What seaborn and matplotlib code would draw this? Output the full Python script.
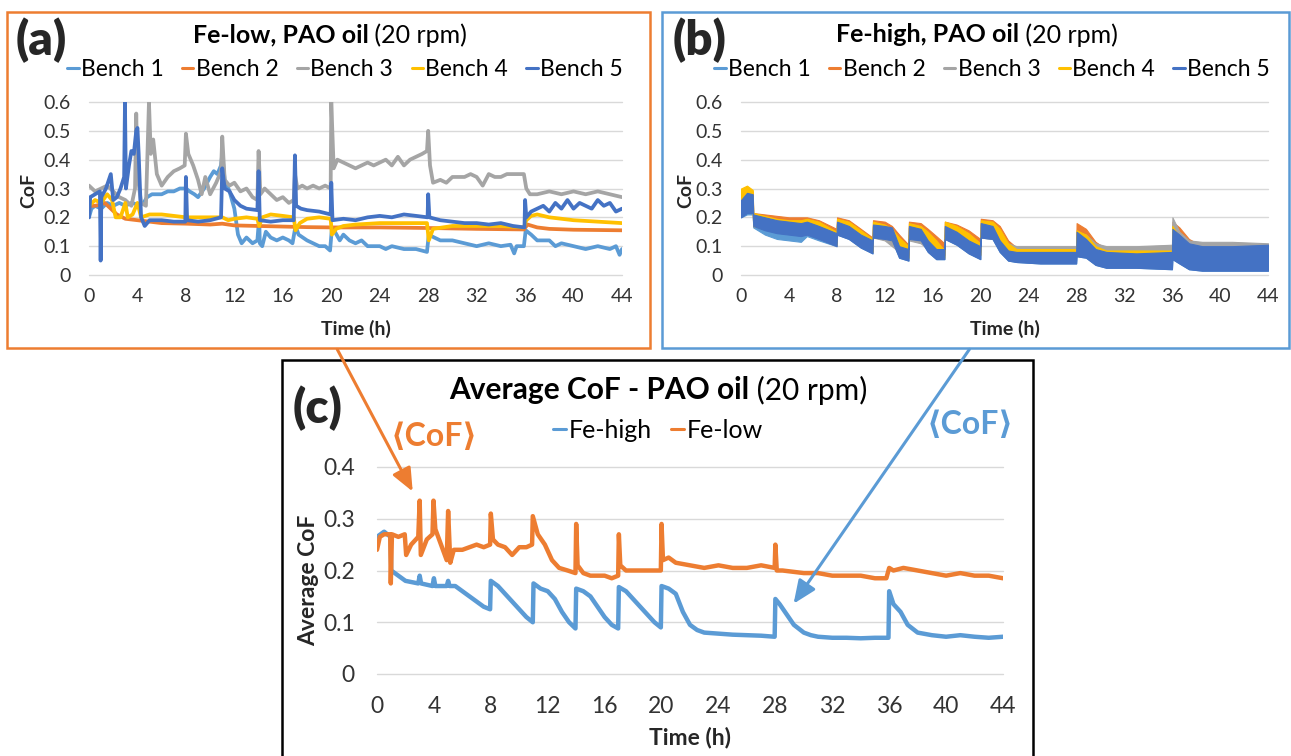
import numpy as np
import pandas as pd
import matplotlib
matplotlib.use("Agg")
import matplotlib.pyplot as plt
from matplotlib.lines import Line2D
from matplotlib.patches import Rectangle, FancyArrowPatch
import seaborn as sns

sns.set_style("white")
plt.rcParams['font.family'] = ['Lato', 'DejaVu Sans']

W, H = 1291, 756

# ---------------- DATA ----------------
BENCHES = ["Bench 1", "Bench 2", "Bench 3", "Bench 4", "Bench 5"]
COLORS = ["#5B9BD5", "#ED7D31", "#A5A5A5", "#FFC000", "#4472C4"]
X_TICKS = [0, 4, 8, 12, 16, 20, 24, 28, 32, 36, 40, 44]
Y_TICKS_AB = [0, 0.1, 0.2, 0.3, 0.4, 0.5, 0.6]
Y_LABELS_AB = ["0", "0.1", "0.2", "0.3", "0.4", "0.5", "0.6"]
Y_TICKS_C = [0, 0.1, 0.2, 0.3, 0.4]
Y_LABELS_C = ["0", "0.1", "0.2", "0.3", "0.4"]

# Panel (a): Fe-low benches
a_b1_t = [0, 0.2, 0.5, 1, 1.5, 2, 2.5, 3, 3.5, 4, 4.5, 4.8, 5.2, 6, 6.5, 7, 7.5, 8, 8.3, 8.7, 9, 9.5, 10, 10.3, 10.6,
          10.9, 11, 11.2, 11.6, 12, 12.3, 12.6, 13, 13.5, 13.9, 14.05, 14.1, 14.3, 14.6, 15, 15.5, 16, 16.5, 16.8,
          17.05, 17.3, 18, 18.5, 19, 19.5, 19.9, 20.05, 20.3, 20.7, 21, 21.5, 22, 22.5, 23, 24, 24.5, 25, 26, 27,
          27.9, 28.05, 28.5, 29, 30, 31, 32, 33, 34, 34.8, 35.1, 35.3, 35.9, 36.05, 36.5, 37, 38, 38.5, 39, 40, 41,
          42, 43, 43.5, 43.8, 44]
a_b1_v = [0.20, 0.23, 0.24, 0.23, 0.25, 0.24, 0.25, 0.24, 0.25, 0.245, 0.25, 0.27, 0.28, 0.28, 0.29, 0.29, 0.30, 0.30,
          0.29, 0.28, 0.27, 0.30, 0.34, 0.36, 0.35, 0.38, 0.42, 0.33, 0.29, 0.23, 0.14, 0.11, 0.13, 0.11, 0.12, 0.20,
          0.11, 0.10, 0.15, 0.13, 0.12, 0.13, 0.12, 0.11, 0.17, 0.14, 0.12, 0.11, 0.10, 0.10, 0.085, 0.16, 0.15,
          0.12, 0.14, 0.12, 0.11, 0.12, 0.10, 0.10, 0.09, 0.10, 0.09, 0.09, 0.08, 0.14, 0.13, 0.12, 0.12, 0.11,
          0.10, 0.11, 0.10, 0.105, 0.075, 0.10, 0.10, 0.155, 0.14, 0.12, 0.12, 0.10, 0.11, 0.10, 0.09, 0.10, 0.09,
          0.10, 0.07, 0.09]

a_b2_t = [0, 0.5, 1, 1.3, 1.8, 2.3, 3, 4, 5, 6, 8, 10, 11, 12, 14, 16, 18, 20, 24, 28, 32, 35.9, 36.2, 37, 38, 40, 44]
a_b2_v = [0.24, 0.24, 0.245, 0.25, 0.23, 0.21, 0.195, 0.19, 0.185, 0.18, 0.178, 0.175, 0.178, 0.172, 0.17, 0.168,
          0.166, 0.165, 0.165, 0.163, 0.16, 0.158, 0.175, 0.165, 0.16, 0.157, 0.155]

a_b3_t = [0, 0.5, 1, 1.5, 2, 2.5, 3, 3.5, 3.8, 3.9, 4.0, 4.3, 4.7, 4.95, 5.1, 5.3, 5.6, 6, 6.5, 7, 7.5, 7.9, 8.0, 8.2,
          8.6, 9, 9.3, 9.6, 10, 10.5, 10.9, 11.0, 11.2, 11.6, 12, 12.5, 13, 13.5, 13.9, 14.0, 14.15, 14.5, 15, 15.5,
          16, 16.5, 16.9, 17.0, 17.2, 17.6, 18, 18.5, 19, 19.5, 19.95, 20.0, 20.2, 20.5, 21, 21.5, 22, 22.5, 23,
          23.5, 24, 24.5, 25, 25.5, 26, 26.5, 27, 27.5, 27.9, 28.0, 28.15, 28.4, 29, 29.5, 30, 31, 31.5, 32, 32.5,
          33, 33.5, 34, 34.5, 35, 35.9, 36.1, 36.4, 37, 38, 39, 40, 41, 42, 43, 44]
a_b3_v = [0.31, 0.29, 0.30, 0.31, 0.29, 0.27, 0.26, 0.24, 0.30, 0.56, 0.35, 0.25, 0.24, 0.60, 0.42, 0.47, 0.35, 0.31,
          0.34, 0.36, 0.37, 0.38, 0.49, 0.42, 0.38, 0.33, 0.28, 0.34, 0.28, 0.32, 0.36, 0.48, 0.33, 0.31, 0.32,
          0.29, 0.30, 0.27, 0.26, 0.43, 0.28, 0.30, 0.28, 0.26, 0.27, 0.25, 0.26, 0.35, 0.30, 0.31, 0.30, 0.31,
          0.30, 0.31, 0.30, 0.60, 0.37, 0.40, 0.39, 0.38, 0.37, 0.38, 0.39, 0.38, 0.39, 0.40, 0.38, 0.41, 0.38,
          0.40, 0.41, 0.42, 0.43, 0.50, 0.38, 0.32, 0.33, 0.32, 0.34, 0.34, 0.35, 0.34, 0.31, 0.35, 0.34, 0.34,
          0.35, 0.35, 0.35, 0.30, 0.28, 0.28, 0.29, 0.28, 0.29, 0.28, 0.29, 0.28, 0.27]

a_b4_t = [0, 0.5, 1, 1.5, 1.9, 2.2, 2.6, 3.0, 3.2, 3.6, 4.0, 4.3, 5, 6, 7, 8, 9, 10, 11, 11.5, 12, 13, 13.9, 14.05,
          14.3, 15, 16, 16.9, 17.05, 17.4, 18, 19, 19.95, 20.05, 20.4, 21, 22, 24, 26, 27.9, 28.05, 28.4, 30, 32,
          34, 35.9, 36.1, 36.5, 37, 38, 40, 42, 44]
a_b4_v = [0.24, 0.26, 0.25, 0.28, 0.26, 0.20, 0.20, 0.25, 0.20, 0.21, 0.25, 0.20, 0.21, 0.21, 0.205, 0.20, 0.20,
          0.20, 0.20, 0.19, 0.195, 0.20, 0.195, 0.17, 0.20, 0.21, 0.205, 0.20, 0.155, 0.18, 0.195, 0.20, 0.195,
          0.14, 0.16, 0.17, 0.175, 0.18, 0.18, 0.18, 0.12, 0.16, 0.17, 0.17, 0.17, 0.165, 0.19, 0.205, 0.21, 0.20,
          0.19, 0.185, 0.18]

a_b5_t = [0, 0.1, 0.5, 0.9, 0.96, 1.02, 1.4, 1.8, 2.0, 2.3, 2.6, 2.9, 2.97, 3.05, 3.3, 3.5, 3.7, 3.9, 4.0, 4.1, 4.3,
          4.6, 5, 6, 7, 7.95, 8.0, 8.1, 9, 10, 10.9, 11.0, 11.2, 11.6, 12, 12.5, 13, 13.9, 14.0, 14.1, 15, 16, 16.9,
          17.0, 17.1, 17.5, 18, 19, 19.95, 20.0, 20.1, 21, 22, 23, 24, 25, 26, 27, 27.95, 28.0, 28.1, 29, 30, 31,
          32, 33, 34, 35, 35.95, 36.0, 36.1, 36.5, 37, 37.5, 38, 38.5, 39, 39.5, 40, 40.5, 41, 41.5, 42, 42.5, 43,
          43.5, 44]
a_b5_v = [0.20, 0.27, 0.28, 0.29, 0.05, 0.27, 0.30, 0.35, 0.26, 0.27, 0.30, 0.34, 0.60, 0.30, 0.38, 0.43, 0.42, 0.50,
          0.51, 0.42, 0.20, 0.17, 0.19, 0.19, 0.185, 0.185, 0.34, 0.19, 0.185, 0.19, 0.20, 0.37, 0.30, 0.29, 0.26,
          0.24, 0.23, 0.225, 0.36, 0.19, 0.185, 0.19, 0.19, 0.415, 0.24, 0.23, 0.225, 0.22, 0.21, 0.32, 0.19,
          0.195, 0.19, 0.20, 0.205, 0.20, 0.21, 0.205, 0.20, 0.28, 0.20, 0.19, 0.185, 0.18, 0.18, 0.175, 0.18,
          0.17, 0.165, 0.26, 0.20, 0.22, 0.23, 0.24, 0.22, 0.25, 0.23, 0.26, 0.23, 0.25, 0.24, 0.23, 0.26, 0.24,
          0.25, 0.22, 0.23]

# Panel (b): Fe-high benches, upper / lower envelope of the dense signal
b_t = [0, 0.5, 0.98, 1.02, 2, 3, 4, 5, 5.5, 6.5, 7.98, 8.02, 9, 10, 10.98, 11.02, 12, 12.6, 13.2, 13.98, 14.02, 15,
       15.6, 16.3, 16.98, 17.02, 18, 19, 19.98, 20.02, 21, 21.6, 22.3, 23, 25, 27.98, 28.02, 28.8, 29.6, 30.5, 33,
       35.98, 36.02, 36.6, 37.4, 38.5, 41, 44]
b_b1_hi = [0.25, 0.27, 0.27, 0.20, 0.19, 0.18, 0.175, 0.17, 0.175, 0.165, 0.14, 0.18, 0.165, 0.135, 0.115, 0.17,
           0.165, 0.16, 0.10, 0.09, 0.165, 0.155, 0.12, 0.09, 0.09, 0.165, 0.145, 0.115, 0.095, 0.175, 0.165, 0.115,
           0.085, 0.08, 0.08, 0.08, 0.145, 0.12, 0.09, 0.08, 0.075, 0.08, 0.155, 0.135, 0.105, 0.10, 0.10, 0.10]
b_b1_lo = [0.20, 0.21, 0.21, 0.165, 0.14, 0.125, 0.12, 0.115, 0.135, 0.12, 0.10, 0.14, 0.125, 0.095, 0.075, 0.13,
           0.125, 0.12, 0.06, 0.05, 0.125, 0.12, 0.08, 0.055, 0.055, 0.125, 0.105, 0.075, 0.055, 0.13, 0.125, 0.08,
           0.05, 0.045, 0.04, 0.04, 0.065, 0.06, 0.035, 0.025, 0.025, 0.02, 0.055, 0.04, 0.02, 0.015, 0.015, 0.015]
b_b2_hi = [0.29, 0.30, 0.29, 0.215, 0.21, 0.205, 0.20, 0.20, 0.20, 0.19, 0.16, 0.20, 0.19, 0.16, 0.13, 0.19, 0.185,
           0.17, 0.14, 0.105, 0.185, 0.18, 0.16, 0.135, 0.11, 0.185, 0.175, 0.155, 0.125, 0.195, 0.19, 0.17, 0.12,
           0.095, 0.09, 0.09, 0.18, 0.16, 0.115, 0.09, 0.09, 0.09, 0.185, 0.165, 0.125, 0.10, 0.10, 0.10]
b_b2_lo = [0.22, 0.23, 0.22, 0.17, 0.165, 0.16, 0.155, 0.15, 0.15, 0.14, 0.11, 0.15, 0.14, 0.11, 0.09, 0.14, 0.14,
           0.12, 0.10, 0.07, 0.14, 0.13, 0.12, 0.09, 0.07, 0.14, 0.13, 0.11, 0.08, 0.14, 0.14, 0.12, 0.09, 0.08,
           0.08, 0.08, 0.12, 0.10, 0.085, 0.08, 0.08, 0.08, 0.11, 0.10, 0.09, 0.09, 0.09, 0.09]
b_b3_hi = [0.27, 0.28, 0.275, 0.205, 0.20, 0.19, 0.185, 0.185, 0.19, 0.175, 0.145, 0.19, 0.175, 0.145, 0.12, 0.17,
           0.16, 0.135, 0.11, 0.095, 0.165, 0.155, 0.13, 0.105, 0.09, 0.17, 0.155, 0.13, 0.105, 0.18, 0.17, 0.14,
           0.11, 0.10, 0.10, 0.10, 0.15, 0.14, 0.11, 0.10, 0.10, 0.105, 0.20, 0.15, 0.12, 0.115, 0.115, 0.11]
b_b3_lo = [0.21, 0.22, 0.22, 0.17, 0.16, 0.15, 0.145, 0.14, 0.145, 0.13, 0.10, 0.14, 0.13, 0.10, 0.08, 0.13, 0.12,
           0.10, 0.08, 0.06, 0.12, 0.11, 0.09, 0.075, 0.07, 0.125, 0.11, 0.09, 0.07, 0.13, 0.125, 0.10, 0.085,
           0.085, 0.085, 0.085, 0.10, 0.095, 0.085, 0.08, 0.08, 0.08, 0.10, 0.10, 0.095, 0.095, 0.095, 0.095]
b_b4_hi = [0.30, 0.31, 0.295, 0.215, 0.205, 0.195, 0.19, 0.19, 0.195, 0.185, 0.15, 0.195, 0.185, 0.155, 0.125,
           0.185, 0.175, 0.16, 0.13, 0.10, 0.18, 0.17, 0.15, 0.12, 0.085, 0.185, 0.17, 0.145, 0.11, 0.19, 0.185,
           0.16, 0.11, 0.09, 0.09, 0.09, 0.155, 0.14, 0.10, 0.085, 0.085, 0.085, 0.17, 0.13, 0.10, 0.095, 0.095,
           0.095]
b_b4_lo = [0.22, 0.23, 0.22, 0.17, 0.16, 0.15, 0.145, 0.14, 0.145, 0.135, 0.105, 0.15, 0.14, 0.11, 0.08, 0.14, 0.13,
           0.12, 0.09, 0.06, 0.14, 0.13, 0.11, 0.08, 0.06, 0.14, 0.125, 0.10, 0.07, 0.14, 0.14, 0.11, 0.08, 0.075,
           0.075, 0.075, 0.10, 0.09, 0.075, 0.07, 0.07, 0.07, 0.09, 0.08, 0.07, 0.07, 0.07, 0.07]
b_b5_hi = [0.26, 0.285, 0.28, 0.21, 0.20, 0.19, 0.185, 0.18, 0.185, 0.17, 0.145, 0.185, 0.17, 0.14, 0.12, 0.175,
           0.17, 0.165, 0.10, 0.09, 0.17, 0.16, 0.12, 0.09, 0.09, 0.17, 0.15, 0.12, 0.10, 0.18, 0.17, 0.12, 0.085,
           0.08, 0.08, 0.08, 0.15, 0.125, 0.09, 0.08, 0.075, 0.08, 0.16, 0.14, 0.11, 0.10, 0.10, 0.105]
b_b5_lo = [0.20, 0.215, 0.215, 0.17, 0.155, 0.145, 0.14, 0.135, 0.14, 0.125, 0.10, 0.14, 0.125, 0.095, 0.075, 0.13,
           0.125, 0.12, 0.06, 0.05, 0.125, 0.12, 0.08, 0.055, 0.055, 0.125, 0.105, 0.075, 0.055, 0.13, 0.125, 0.08,
           0.05, 0.045, 0.04, 0.04, 0.065, 0.06, 0.035, 0.025, 0.025, 0.02, 0.055, 0.04, 0.02, 0.015, 0.015, 0.015]

# Panel (c): averages
c_low_t = [0, 0.2, 0.5, 0.93, 0.97, 1.05, 1.5, 1.95, 2.05, 2.4, 2.9, 3.0, 3.08, 3.5, 3.9, 3.97, 4.1, 4.5, 4.9, 5.0,
           5.15, 5.4, 6, 6.5, 7, 7.5, 7.95, 8.0, 8.15, 8.5, 9, 9.5, 10, 10.5, 10.9, 10.95, 11.3, 11.8, 12.3, 12.8,
           13.4, 13.95, 14.0, 14.1, 14.5, 15, 16, 16.5, 16.95, 17.0, 17.1, 17.5, 18, 19, 19.95, 20.0, 20.1, 20.5, 21,
           22, 23, 24, 25, 26, 27, 27.95, 28.0, 28.1, 28.5, 30, 31, 32, 33, 34, 35, 35.8, 36.0, 36.3, 37, 38, 39, 40,
           41, 42, 43, 44]
c_low_v = [0.24, 0.265, 0.27, 0.27, 0.175, 0.27, 0.265, 0.27, 0.23, 0.25, 0.265, 0.335, 0.23, 0.26, 0.27, 0.335,
           0.28, 0.25, 0.22, 0.315, 0.215, 0.24, 0.24, 0.245, 0.25, 0.245, 0.25, 0.31, 0.26, 0.25, 0.245, 0.23,
           0.245, 0.245, 0.25, 0.305, 0.27, 0.25, 0.22, 0.205, 0.20, 0.195, 0.29, 0.21, 0.195, 0.19, 0.19, 0.185,
           0.19, 0.27, 0.21, 0.20, 0.20, 0.20, 0.20, 0.29, 0.22, 0.225, 0.215, 0.21, 0.205, 0.21, 0.205, 0.205,
           0.21, 0.205, 0.25, 0.20, 0.20, 0.195, 0.195, 0.19, 0.19, 0.19, 0.185, 0.185, 0.205, 0.20, 0.205, 0.20,
           0.195, 0.19, 0.195, 0.19, 0.19, 0.185]
c_high_t = [0, 0.5, 0.95, 1.0, 1.5, 2, 2.9, 3.0, 3.1, 3.9, 4.0, 4.1, 4.9, 5.0, 5.1, 5.5, 6, 6.5, 7, 7.5, 7.95, 8.0,
            8.5, 9, 9.5, 10, 10.5, 10.95, 11.0, 11.5, 12, 12.5, 13, 13.5, 13.95, 14.0, 14.5, 15, 15.5, 16, 16.5,
            16.95, 17.0, 17.5, 18, 18.5, 19, 19.5, 19.95, 20.0, 20.5, 21, 21.5, 22, 22.5, 23, 24, 25, 26, 27, 27.95,
            28.0, 28.3, 28.8, 29.3, 30, 30.5, 31, 32, 33, 34, 35, 35.95, 36.0, 36.3, 36.8, 37.3, 38, 39, 40, 41, 42,
            43, 44]
c_high_v = [0.265, 0.275, 0.265, 0.20, 0.19, 0.18, 0.175, 0.19, 0.175, 0.17, 0.185, 0.17, 0.17, 0.18, 0.17, 0.17,
            0.16, 0.15, 0.14, 0.13, 0.125, 0.18, 0.17, 0.155, 0.14, 0.125, 0.11, 0.10, 0.175, 0.165, 0.16, 0.145,
            0.12, 0.10, 0.088, 0.165, 0.16, 0.15, 0.13, 0.11, 0.095, 0.088, 0.168, 0.16, 0.145, 0.13, 0.115, 0.10,
            0.09, 0.17, 0.165, 0.155, 0.12, 0.095, 0.085, 0.08, 0.078, 0.076, 0.075, 0.074, 0.072, 0.145, 0.135,
            0.115, 0.095, 0.08, 0.075, 0.072, 0.07, 0.07, 0.069, 0.07, 0.07, 0.16, 0.135, 0.12, 0.095, 0.08, 0.075,
            0.072, 0.075, 0.072, 0.07, 0.072]

# ---------------- FIGURE ----------------
fig = plt.figure(figsize=(W / 100, H / 100), dpi=100)


def px_rect(x0, y0, x1, y1):
    return [x0 / W, 1 - y1 / H, (x1 - x0) / W, (y1 - y0) / H]


def fx(x):
    return x / W


def fy(y):
    return 1 - y / H


GRID = "#D9D9D9"
TXT = "#333333"


def style_axes(ax, yticks, ylabels, ylim, tick_fs, ypad, xpad):
    ax.set_xlim(0, 44)
    ax.set_ylim(*ylim)
    ax.set_xticks(X_TICKS)
    ax.set_xticklabels([str(x) for x in X_TICKS], fontsize=tick_fs, color=TXT)
    ax.set_yticks(yticks)
    ax.set_yticklabels(ylabels, fontsize=tick_fs, color=TXT)
    ax.tick_params(axis="y", length=0, pad=ypad)
    ax.tick_params(axis="x", length=0, pad=xpad)
    for s in ax.spines.values():
        s.set_visible(False)
    for yv in yticks:
        ax.axhline(yv, color=GRID, lw=1.0, zorder=0, clip_on=False)
    ax.set_xlabel("")
    ax.set_ylabel("")
    ax.patch.set_alpha(0)


# Panel (a)
ax_a = fig.add_axes(px_rect(89, 102, 622, 275))
a_series = [(a_b1_t, a_b1_v), (a_b2_t, a_b2_v), (a_b3_t, a_b3_v), (a_b4_t, a_b4_v), (a_b5_t, a_b5_v)]
for (tt, vv), name, col in zip(a_series, BENCHES, COLORS):
    df = pd.DataFrame({"t": tt, "v": vv})
    sns.lineplot(data=df, x="t", y="v", ax=ax_a, color=col, lw=2.7, estimator=None, sort=False, legend=False)
style_axes(ax_a, Y_TICKS_AB, Y_LABELS_AB, (0, 0.6), 14, 13.5, 9)

# Panel (b)
ax_b = fig.add_axes(px_rect(741, 102, 1268, 275))
b_series = [(b_b1_lo, b_b1_hi), (b_b2_lo, b_b2_hi), (b_b3_lo, b_b3_hi), (b_b4_lo, b_b4_hi), (b_b5_lo, b_b5_hi)]
for (lo, hi), name, col in zip(b_series, BENCHES, COLORS):
    ax_b.fill_between(b_t, lo, hi, color=col, lw=0.8, edgecolor=col)
style_axes(ax_b, Y_TICKS_AB, Y_LABELS_AB, (0, 0.6), 14, 13.5, 9)

# Panel (c)
ax_c = fig.add_axes(px_rect(377, 467, 1003, 674))
for tt, vv, col in [(c_high_t, c_high_v, COLORS[0]), (c_low_t, c_low_v, COLORS[1])]:
    df = pd.DataFrame({"t": tt, "v": vv})
    sns.lineplot(data=df, x="t", y="v", ax=ax_c, color=col, lw=3.2, estimator=None, sort=False, legend=False)
style_axes(ax_c, Y_TICKS_C, Y_LABELS_C, (0, 0.4), 16.5, 16, 16)

# Axis labels
fig.text(fx(356), fy(329), "Time (h)", fontsize=14, fontweight="bold", ha="center", va="center")
fig.text(fx(1005), fy(329), "Time (h)", fontsize=14, fontweight="bold", ha="center", va="center")
fig.text(fx(690), fy(738), "Time (h)", fontsize=16.5, fontweight="bold", ha="center", va="center")
fig.text(fx(29), fy(190), "CoF", fontsize=14, fontweight="bold", ha="center", va="center", rotation=90)
fig.text(fx(686), fy(190), "CoF", fontsize=14, fontweight="bold", ha="center", va="center", rotation=90)
fig.text(fx(309), fy(580), "Average CoF", fontsize=16.5, fontweight="bold", ha="center", va="center",
         rotation=90)


# Legends
def make_legend(labels, colors, xc, yc, fs, colsp):
    handles = [Line2D([], [], color=c, lw=2.2) for c in colors]
    fig.legend(handles, labels, loc="center", bbox_to_anchor=(fx(xc), fy(yc)), ncol=len(labels),
               frameon=False, fontsize=fs, handlelength=0.5, handletextpad=0.1, columnspacing=colsp,
               labelcolor="black", borderpad=0, borderaxespad=0)


make_legend(BENCHES, COLORS, 345, 70, 16.5, 0.8)
make_legend(BENCHES, COLORS, 992, 70, 16.5, 0.8)
make_legend(["Fe-high", "Fe-low"], [COLORS[0], COLORS[1]], 658, 430, 18, 0.8)

# Titles (bold part + normal part)
fig.canvas.draw()
renderer = fig.canvas.get_renderer()


def mixed_title(xc, yc, bold, normal, fs):
    t1 = fig.text(0, 0, bold, fontsize=fs, fontweight="bold", va="center", ha="left", color="black")
    t2 = fig.text(0, 0, normal, fontsize=fs, va="center", ha="left", color="black")
    w1 = t1.get_window_extent(renderer).width
    w2 = t2.get_window_extent(renderer).width
    x0 = xc - (w1 + w2) / 2
    t1.set_position((fx(x0), fy(yc)))
    t2.set_position((fx(x0 + w1), fy(yc)))


mixed_title(330, 35, "Fe-low, PAO oil", " (20 rpm)", 18)
mixed_title(977, 35, "Fe-high, PAO oil", " (20 rpm)", 18)
mixed_title(658, 390, "Average CoF - PAO oil", " (20 rpm)", 21.5)

# Panel letters
fig.text(fx(41), fy(40), "(a)", fontsize=34, fontweight="heavy", ha="center", va="center")
fig.text(fx(700), fy(40), "(b)", fontsize=34, fontweight="heavy", ha="center", va="center")
fig.text(fx(318), fy(408), "(c)", fontsize=34, fontweight="heavy", ha="center", va="center")

# <CoF> labels
fig.text(fx(434), fy(436), "\u27e8CoF\u27e9", fontsize=23, fontweight="bold", color=COLORS[1],
         ha="center", va="center")
fig.text(fx(970), fy(424), "\u27e8CoF\u27e9", fontsize=23, fontweight="bold", color=COLORS[0],
         ha="center", va="center")

# Panel frames
fig.patches.append(Rectangle((fx(7), fy(348)), 643 / W, 336 / H, transform=fig.transFigure,
                             fill=False, edgecolor=COLORS[1], lw=1.8, zorder=5))
fig.patches.append(Rectangle((fx(662), fy(348)), 627 / W, 336 / H, transform=fig.transFigure,
                             fill=False, edgecolor=COLORS[0], lw=1.8, zorder=5))
fig.patches.append(Rectangle((fx(282), fy(800)), 751 / W, 440 / H, transform=fig.transFigure,
                             fill=False, edgecolor="black", lw=1.8, zorder=5))

# Arrows
for (x0, y0, x1, y1, col) in [(336, 347, 414, 494, COLORS[1]), (971, 347, 792, 606, COLORS[0])]:
    arr = FancyArrowPatch((fx(x0), fy(y0)), (fx(x1), fy(y1)), transform=fig.transFigure,
                          arrowstyle="-|>,head_length=14,head_width=6", color=col, lw=2.2,
                          mutation_scale=1, zorder=6)
    fig.patches.append(arr)

fig.savefig("out.png", dpi=100)
